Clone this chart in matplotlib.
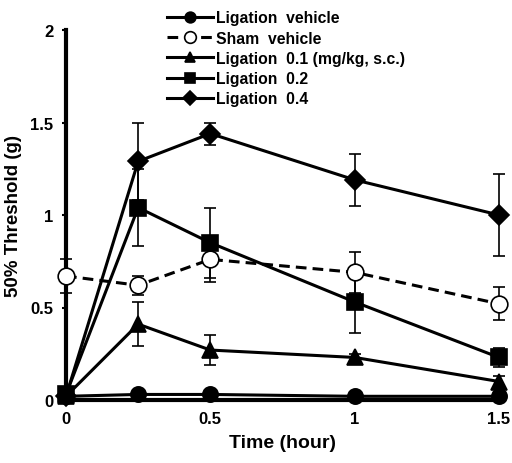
import matplotlib
matplotlib.use("Agg")
import matplotlib.pyplot as plt
import numpy as np

plt.rcParams['font.family'] = ['Liberation Sans', 'DejaVu Sans']
plt.rcParams['font.weight'] = 'bold'

time = [0, 0.25, 0.5, 1, 1.5]

lig_vehicle = [0.02, 0.03, 0.03, 0.02, 0.02]
lig_vehicle_err = [0.0, 0.0, 0.0, 0.0, 0.0]

sham_vehicle = [0.67, 0.62, 0.76, 0.69, 0.52]
sham_vehicle_err = [0.09, 0.05, 0.12, 0.11, 0.09]

lig_01 = [0.02, 0.41, 0.27, 0.23, 0.10]
lig_01_err = [0.0, 0.12, 0.08, 0.02, 0.03]

lig_02 = [0.03, 1.04, 0.85, 0.53, 0.23]
lig_02_err = [0.0, 0.21, 0.19, 0.17, 0.05]

lig_04 = [0.02, 1.29, 1.44, 1.19, 1.00]
lig_04_err = [0.0, 0.21, 0.06, 0.14, 0.22]

labels = ["Ligation  vehicle", "Sham  vehicle", "Ligation  0.1 (mg/kg, s.c.)",
          "Ligation  0.2", "Ligation  0.4"]

xticks = [0, 0.5, 1, 1.5]
xticklabels = ["0", "0.5", "1", "1.5"]
yticks = [0, 0.5, 1, 1.5, 2]
yticklabels = ["0", "0.5", "1", "1.5", "2"]

fig = plt.figure(figsize=(5.12, 4.64), dpi=100)
ax = fig.add_axes([66/512, 1-401/464, (499-66)/512, (401-31)/464])

series = [
    (lig_vehicle, lig_vehicle_err, 'o', 'black', '-', 11),
    (sham_vehicle, sham_vehicle_err, 'o', 'white', (0, (3.5, 2)), 12),
    (lig_01, lig_01_err, '^', 'black', '-', 11),
    (lig_02, lig_02_err, 's', 'black', '-', 11),
    (lig_04, lig_04_err, 'D', 'black', '-', 10.5),
]
handles = []
for (vals, err, m, fc, ls, ms), lab in zip(series, labels):
    ax.errorbar(time, vals, yerr=err, fmt='none', ecolor='black', elinewidth=1.2,
                capsize=4.5, capthick=1.2, clip_on=False, zorder=2)
    h, = ax.plot(time, vals, marker=m, markerfacecolor=fc, markeredgecolor='black',
                 markeredgewidth=1.2, markersize=ms, color='black', linewidth=2.2,
                 linestyle=ls, clip_on=False, zorder=3, label=lab)
    handles.append(h)

ax.set_xlim(0, 1.5)
ax.set_ylim(0, 2)
ax.set_xticks(xticks)
ax.set_xticklabels(xticklabels, fontsize=12, fontweight='bold')
ax.set_yticks(yticks)
ax.set_yticklabels(yticklabels, fontsize=12, fontweight='bold')
ax.spines['top'].set_visible(False)
ax.spines['right'].set_visible(False)
ax.spines['left'].set_linewidth(3)
ax.spines['bottom'].set_linewidth(3)
ax.tick_params(axis='y', direction='out', length=3, width=1.5, pad=6)
ax.tick_params(axis='x', direction='out', length=0, width=1.5, pad=8)
ax.set_xlabel("Time (hour)", fontsize=14, fontweight='bold', labelpad=6)
ax.set_ylabel("50% Threshold (g)", fontsize=13.5, fontweight='bold', labelpad=6)

fig.legend(handles=handles, labels=labels, loc='upper left',
           bbox_to_anchor=(156/512, 1-0.5/464), frameon=False,
           handlelength=2.9, handletextpad=0.25,
           labelspacing=0.33, markerscale=0.7, borderpad=0.2,
           prop={'weight': 'bold', 'size': 11.3})

fig.savefig("out.png", dpi=100)
